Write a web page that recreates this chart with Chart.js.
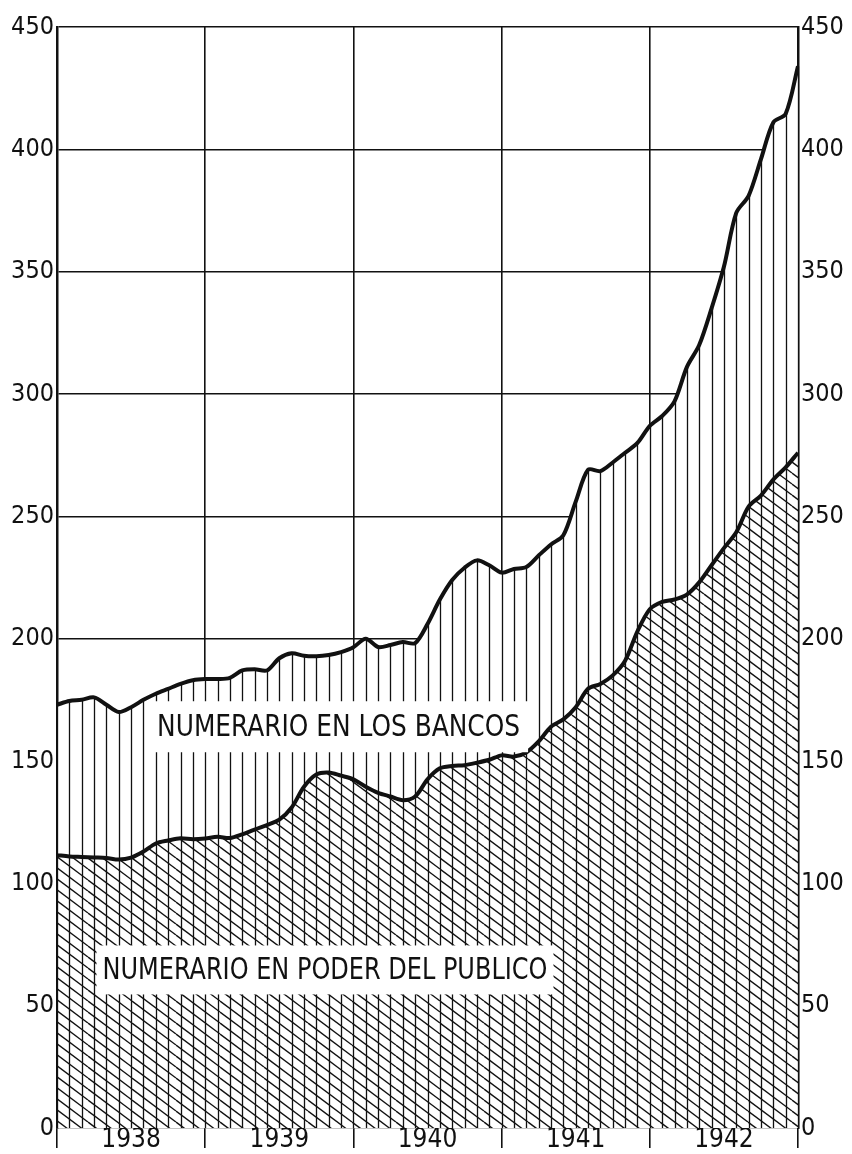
<!DOCTYPE html>
<html lang="es">
<head>
<meta charset="utf-8">
<title>Numerario 1938-1942</title>
<script src="https://cdn.jsdelivr.net/npm/chart.js@4/dist/chart.umd.min.js"></script>
<style>
    html, body { margin: 0; padding: 0; background: #fff; }
    #caja { position: relative; width: 852px; height: 1154px; }
</style>
</head>
<body>
<div id="caja"><canvas id="chartNumerario"></canvas></div>
<script>
// ── Datos (millones) ──────────────────────────────────────────────────────
// un valor por cada mes, de enero 1938 a fin de diciembre 1942 (61 puntos)
var anios = ['1938', '1939', '1940', '1941', '1942'];
var meses = [0, 1, 2, 3, 4, 5, 6, 7, 8, 9, 10, 11, 12, 13, 14, 15, 16, 17, 18, 19,
             20, 21, 22, 23, 24, 25, 26, 27, 28, 29, 30, 31, 32, 33, 34, 35, 36, 37, 38, 39,
             40, 41, 42, 43, 44, 45, 46, 47, 48, 49, 50, 51, 52, 53, 54, 55, 56, 57, 58, 59, 60];

// borde superior: numerario total (público + bancos)
var numerarioTotal = [173, 174.5, 175, 176, 173, 170, 172, 175, 177.5, 179.5,
                      181.5, 183, 183.5, 183.5, 184, 187, 187.5, 187, 192, 194,
                      193, 192.8, 193.3, 194.5, 196.5, 200, 196.6, 197.4, 198.6, 198.2,
                      206, 216, 224, 229, 232, 230, 227, 228.5, 229.3, 234,
                      238.5, 242.3, 256, 269, 268.5, 272, 276, 280, 287, 291,
                      297, 311, 320, 335, 352, 374, 381, 396, 411, 414.5, 434];

// borde inferior: numerario en poder del público
var numerarioPublico = [111.5, 111, 110.8, 110.6, 110.4, 109.7, 110.5, 113, 116.3, 117.5,
                        118.4, 118, 118.3, 119, 118.5, 120, 122, 123.8, 126, 131,
                        139.5, 144.5, 145.3, 144, 142.5, 139.5, 137, 135.5, 134, 135.5,
                        142.5, 147, 148, 148.3, 149.3, 150.5, 152.3, 151.8, 153.5, 158,
                        164, 167, 172, 179.5, 181.5, 185, 191, 203, 212, 215,
                        216, 218, 223, 230, 237, 243.5, 254, 258.5, 265, 270, 276];

var rotulos = [
    { texto: 'NUMERARIO EN LOS BANCOS',        mes: 22.8, valor: 164,  ancho: 363, padX: 8, padY: 14 },
    { texto: 'NUMERARIO EN PODER DEL PUBLICO', mes: 21.7, valor: 64.6, ancho: 445, padX: 6, padY: 13 }
];

var TINTA = '#111';
var FUENTE = "'Liberation Sans Narrow', 'DejaVu Sans Condensed', 'Roboto', sans-serif";

// ── Rayado diagonal del área inferior ─────────────────────────────────────
function patronDiagonal() {
    var c = document.createElement('canvas');
    c.width = 44; c.height = 33;
    var g = c.getContext('2d');
    g.strokeStyle = TINTA;
    g.lineWidth = 1.4;
    for (var k = -6; k <= 6; k++) {
        g.beginPath();
        g.moveTo(0, k * 11);
        g.lineTo(44, k * 11 + 33);
        g.stroke();
    }
    return g.createPattern(c, 'repeat');
}

// ── Rayado vertical mensual (hasta el total) ──────────────────────────────
// va después del relleno (filler en beforeDatasetsDraw) y antes de las líneas
var rayadoVertical = {
    id: 'rayadoVertical',
    beforeDatasetsDraw: function (chart) {
        var x = chart.scales.x, y = chart.scales.y, ctx = chart.ctx;
        ctx.save();
        ctx.strokeStyle = TINTA;
        ctx.lineWidth = 1.3;
        meses.forEach(function (m, i) {
            var px = Math.round(x.getPixelForValue(m)) + 0.5;
            ctx.beginPath();
            ctx.moveTo(px, y.getPixelForValue(0));
            ctx.lineTo(px, y.getPixelForValue(numerarioTotal[i]));
            ctx.stroke();
        });
        ctx.restore();
    }
};

// ── Rótulos con fondo blanco ──────────────────────────────────────────────
var rotulosPlugin = {
    id: 'rotulos',
    afterDatasetsDraw: function (chart) {
        var x = chart.scales.x, y = chart.scales.y, ctx = chart.ctx;
        ctx.save();
        rotulos.forEach(function (r) {
            var cx = x.getPixelForValue(r.mes);
            var cy = y.getPixelForValue(r.valor);
            ctx.font = '31px ' + FUENTE;
            var w = ctx.measureText(r.texto).width;
            var esc = r.ancho / w;
            var alto = 23;
            ctx.fillStyle = '#fff';
            ctx.fillRect(cx - r.ancho / 2 - r.padX, cy - alto / 2 - r.padY,
                         r.ancho + 2 * r.padX, alto + 2 * r.padY);
            ctx.translate(cx, cy);
            ctx.scale(esc, 1);
            ctx.fillStyle = TINTA;
            ctx.textAlign = 'center';
            ctx.textBaseline = 'middle';
            ctx.fillText(r.texto, 0, 1);
            ctx.setTransform(1, 0, 0, 1, 0, 0);
        });
        ctx.restore();
    }
};

function colorAnual(c) {
    return (c.tick && c.tick.value % 12 === 0) ? TINTA : 'rgba(0,0,0,0)';
}

new Chart(document.getElementById('chartNumerario').getContext('2d'), {
    type: 'line',
    data: {
        labels: meses,
        datasets: [
            {
                label: 'Numerario en poder del público',
                data: meses.map(function (m, i) { return { x: m, y: numerarioPublico[i] }; }),
                borderColor: TINTA,
                borderWidth: 4,
                backgroundColor: patronDiagonal(),
                fill: 'origin',
                pointRadius: 0,
                tension: 0.3
            },
            {
                label: 'Numerario total',
                data: meses.map(function (m, i) { return { x: m, y: numerarioTotal[i] }; }),
                borderColor: TINTA,
                borderWidth: 4,
                backgroundColor: '#fff',
                fill: 'origin',
                pointRadius: 0,
                tension: 0.3
            }
        ]
    },
    options: {
        responsive: true,
        maintainAspectRatio: false,
        animation: false,
        layout: { padding: { top: 27, bottom: 0, left: 0, right: 0 } },
        plugins: {
            legend: { display: false },
            tooltip: { enabled: false },
            filler: { drawTime: 'beforeDatasetsDraw' }
        },
        scales: {
            x: {
                type: 'linear',
                min: 0,
                max: 60,
                afterBuildTicks: function (s) {
                    s.ticks = [0, 6, 12, 18, 24, 30, 36, 42, 48, 54, 60].map(function (v) { return { value: v }; });
                },
                afterFit: function (s) { s.height = 26; },
                ticks: {
                    autoSkip: false,
                    maxRotation: 0,
                    padding: -23,
                    color: TINTA,
                    font: { family: FUENTE, size: 26 },
                    callback: function (v) { return v % 12 === 6 ? anios[(v - 6) / 12] : ''; }
                },
                grid: {
                    color: colorAnual,
                    tickColor: colorAnual,
                    lineWidth: 1.6,
                    tickLength: 20,
                    drawOnChartArea: true
                },
                border: { display: true, color: TINTA, width: 1.2 }
            },
            y: {
                position: 'left',
                min: 0,
                max: 450,
                afterFit: function (s) { s.width = 57; },
                ticks: {
                    stepSize: 50,
                    padding: 3,
                    color: TINTA,
                    font: { family: FUENTE, size: 25 }
                },
                grid: {
                    color: function (c) { return c.tick && c.tick.value === 0 ? 'rgba(0,0,0,0)' : TINTA; },
                    lineWidth: 1.6,
                    drawTicks: false
                },
                border: { display: true, color: TINTA, width: 2.5 }
            },
            y2: {
                position: 'right',
                min: 0,
                max: 450,
                afterFit: function (s) { s.width = 54; },
                ticks: {
                    stepSize: 50,
                    padding: 3,
                    color: TINTA,
                    font: { family: FUENTE, size: 25 }
                },
                grid: { display: false, drawTicks: false },
                border: { display: true, color: TINTA, width: 2.5 }
            }
        }
    },
    plugins: [rayadoVertical, rotulosPlugin]
});
</script>
</body>
</html>
